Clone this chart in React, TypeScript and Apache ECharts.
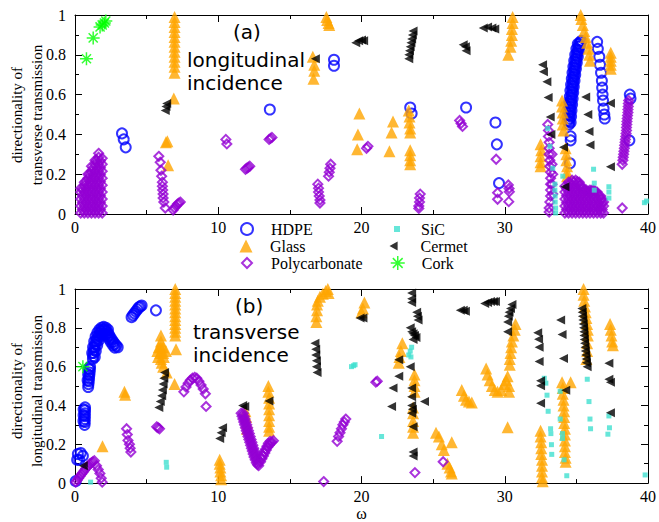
import React, { useEffect, useRef } from "react";
import * as echarts from "echarts";

// ---------- axes ----------
const xMin = 0;
const xMax = 40;
const xInterval = 10;
const yMin = 0;
const yMax = 1;
const yInterval = 0.2;

const seriesNames = ["HDPE", "Glass", "Polycarbonate", "SiC", "Cermet", "Cork"];

// ---------- panel (a): longitudinal incidence ----------
const hdpeA = [
  [3.28, 0.405], [3.4, 0.375], [3.54, 0.335],
  [13.6, 0.525],
  [18.08, 0.775], [18.08, 0.745],
  [23.4, 0.535], [23.5, 0.505],
  [27.3, 0.535],
  [29.35, 0.46], [29.45, 0.35], [29.6, 0.155],
  [34.55, 0.255], [34.6, 0.37], [34.6, 0.39],
  [34.48, 0.45], [34.5, 0.465], [34.52, 0.48], [34.53, 0.495], [34.55, 0.51], [34.57, 0.525],
  [34.58, 0.54], [34.6, 0.555], [34.62, 0.57], [34.65, 0.585], [34.67, 0.6], [34.7, 0.615],
  [34.72, 0.63], [34.74, 0.645], [34.76, 0.66], [34.79, 0.675], [34.81, 0.69], [34.84, 0.705],
  [34.86, 0.72], [34.89, 0.735], [34.92, 0.75], [34.95, 0.765], [34.98, 0.78], [35.02, 0.795],
  [35.06, 0.81], [35.1, 0.825], [35.15, 0.84], [35.2, 0.855], [35.27, 0.865], [35.35, 0.87],
  [34.6, 0.46], [34.63, 0.49], [34.66, 0.52], [34.7, 0.55], [34.74, 0.58], [34.78, 0.61],
  [34.82, 0.64], [34.87, 0.67], [34.92, 0.7], [34.97, 0.73], [35.03, 0.76], [35.1, 0.79],
  [35.17, 0.82], [35.25, 0.845],
  [34.4, 0.47], [34.43, 0.5], [34.46, 0.53], [34.5, 0.56], [34.54, 0.59], [34.58, 0.62],
  [34.63, 0.65], [34.68, 0.68], [34.73, 0.71], [34.79, 0.74], [34.85, 0.77], [34.92, 0.8],
  [35.0, 0.83], [35.1, 0.855],
  [36.45, 0.865], [36.5, 0.83], [36.6, 0.79], [36.65, 0.75], [36.72, 0.71], [36.78, 0.67],
  [36.8, 0.635], [36.83, 0.6], [36.86, 0.57], [36.9, 0.53], [36.95, 0.5], [36.98, 0.48],
  [38.73, 0.6], [38.78, 0.58], [38.7, 0.37],
];

const glassA = [
  [6.95, 0.99], [6.95, 0.965], [6.95, 0.94], [6.95, 0.915], [6.95, 0.89], [6.95, 0.865],
  [6.95, 0.84], [6.95, 0.815], [6.95, 0.79], [6.95, 0.765], [6.95, 0.74], [6.95, 0.71],
  [6.9, 0.58], [6.35, 0.36], [6.45, 0.365], [6.5, 0.245],
  [16.6, 0.79], [16.7, 0.75], [16.7, 0.72], [16.65, 0.68],
  [17.55, 0.99], [17.6, 0.975], [17.7, 0.96], [17.75, 0.95],
  [19.85, 0.505], [19.75, 0.4], [19.7, 0.325],
  [22.2, 0.465], [22.1, 0.41], [21.95, 0.315],
  [23.3, 0.52], [23.35, 0.49], [23.35, 0.46], [23.4, 0.43], [23.4, 0.41],
  [23.4, 0.32], [23.4, 0.295], [23.4, 0.27], [23.4, 0.25],
  [30.55, 0.99], [30.55, 0.96], [30.5, 0.93], [30.5, 0.9], [30.45, 0.87], [30.4, 0.84], [30.25, 0.8],
  [35.3, 1.0], [35.35, 0.98], [35.45, 0.95], [35.55, 0.92], [35.65, 0.89], [35.75, 0.86],
  [35.85, 0.83], [35.9, 0.8], [35.95, 0.77],
  [37.4, 0.81], [37.4, 0.79], [37.4, 0.77], [37.4, 0.75], [37.4, 0.73],
  [34.0, 0.57], [34.0, 0.54], [34.05, 0.51], [34.05, 0.48], [34.05, 0.45], [34.1, 0.42],
  [32.5, 0.35], [32.55, 0.32], [32.5, 0.29], [32.5, 0.26], [32.5, 0.24],
  [34.25, 0.33], [34.3, 0.3], [34.3, 0.27], [34.35, 0.24], [34.35, 0.21], [34.35, 0.19],
];

const pcA = [
  [0.4, 0.005], [0.4, 0.04], [0.4, 0.075], [0.4, 0.11], [0.4, 0.13],
  [0.65, 0.005], [0.65, 0.04], [0.65, 0.075], [0.65, 0.11], [0.65, 0.145], [0.65, 0.16],
  [0.9, 0.005], [0.9, 0.04], [0.9, 0.075], [0.9, 0.11], [0.9, 0.145], [0.9, 0.18], [0.9, 0.2],
  [1.15, 0.005], [1.15, 0.04], [1.15, 0.075], [1.15, 0.11], [1.15, 0.145], [1.15, 0.18], [1.15, 0.215], [1.15, 0.24],
  [1.4, 0.005], [1.4, 0.04], [1.4, 0.075], [1.4, 0.11], [1.4, 0.145], [1.4, 0.18], [1.4, 0.215], [1.4, 0.25], [1.4, 0.27],
  [1.65, 0.005], [1.65, 0.04], [1.65, 0.075], [1.65, 0.11], [1.65, 0.145], [1.65, 0.18], [1.65, 0.215], [1.65, 0.25], [1.65, 0.285], [1.65, 0.305],
  [1.9, 0.005], [1.9, 0.04], [1.9, 0.075], [1.9, 0.11], [1.9, 0.145], [1.9, 0.18], [1.9, 0.215], [1.9, 0.25], [1.9, 0.28],
  [0.52, 0.022], [0.52, 0.057], [0.52, 0.092], [0.52, 0.127],
  [0.77, 0.022], [0.77, 0.057], [0.77, 0.092], [0.77, 0.127], [0.77, 0.165],
  [1.02, 0.022], [1.02, 0.057], [1.02, 0.092], [1.02, 0.127], [1.02, 0.162], [1.02, 0.2],
  [1.27, 0.022], [1.27, 0.057], [1.27, 0.092], [1.27, 0.127], [1.27, 0.162], [1.27, 0.197], [1.27, 0.232],
  [1.52, 0.022], [1.52, 0.057], [1.52, 0.092], [1.52, 0.127], [1.52, 0.162], [1.52, 0.197], [1.52, 0.232], [1.52, 0.27],
  [1.77, 0.022], [1.77, 0.057], [1.77, 0.092], [1.77, 0.127], [1.77, 0.162], [1.77, 0.197], [1.77, 0.232], [1.77, 0.267],
  [5.85, 0.29], [5.95, 0.26], [6.0, 0.22], [6.05, 0.19], [6.1, 0.16], [6.1, 0.14], [6.12, 0.12],
  [6.15, 0.1], [6.15, 0.08], [6.2, 0.06], [6.3, 0.03],
  [6.85, 0.02], [6.95, 0.03], [7.05, 0.04], [7.15, 0.05], [7.25, 0.055], [7.35, 0.06],
  [10.53, 0.375], [10.6, 0.352],
  [11.9, 0.225], [12.0, 0.23], [12.1, 0.235], [12.2, 0.24],
  [13.55, 0.375], [13.65, 0.38], [13.75, 0.385],
  [16.95, 0.15], [17.0, 0.13], [17.0, 0.11], [17.05, 0.09], [17.1, 0.07], [17.1, 0.055],
  [17.85, 0.25], [17.8, 0.23], [17.75, 0.21], [17.7, 0.19],
  [20.35, 0.33], [20.45, 0.34],
  [24.1, 0.1], [24.05, 0.08], [24.05, 0.06], [24.0, 0.04], [24.0, 0.028],
  [26.85, 0.47], [26.95, 0.455], [27.05, 0.44],
  [29.4, 0.275], [29.5, 0.107], [29.5, 0.074], [30.25, 0.146], [30.3, 0.128], [30.32, 0.112], [30.28, 0.062],
  [33.0, 0.45], [33.05, 0.42], [33.05, 0.39], [33.1, 0.36], [33.1, 0.33], [33.1, 0.3], [33.15, 0.27],
  [33.15, 0.24], [33.2, 0.21], [33.2, 0.18], [33.2, 0.15], [33.2, 0.12], [33.2, 0.09], [33.15, 0.06],
  [33.1, 0.03], [33.1, 0.01], [33.3, 0.3], [33.3, 0.25], [33.35, 0.2], [33.3, 0.15], [33.35, 0.1],
  [34.2, 0.005], [34.2, 0.04], [34.2, 0.075], [34.2, 0.11], [34.2, 0.14],
  [34.45, 0.005], [34.45, 0.04], [34.45, 0.075], [34.45, 0.11], [34.45, 0.145], [34.45, 0.16],
  [34.7, 0.005], [34.7, 0.04], [34.7, 0.075], [34.7, 0.11], [34.7, 0.145], [34.7, 0.17],
  [34.95, 0.005], [34.95, 0.04], [34.95, 0.075], [34.95, 0.11], [34.95, 0.145], [34.95, 0.17],
  [35.2, 0.005], [35.2, 0.04], [35.2, 0.075], [35.2, 0.11], [35.2, 0.145], [35.2, 0.16],
  [35.45, 0.005], [35.45, 0.04], [35.45, 0.075], [35.45, 0.11], [35.45, 0.13],
  [35.7, 0.005], [35.7, 0.04], [35.7, 0.075], [35.7, 0.11], [35.7, 0.12],
  [35.95, 0.005], [35.95, 0.04], [35.95, 0.075], [35.95, 0.11], [35.95, 0.12],
  [36.2, 0.005], [36.2, 0.04], [36.2, 0.075], [36.2, 0.11], [36.2, 0.12],
  [36.45, 0.005], [36.45, 0.04], [36.45, 0.075], [36.45, 0.11],
  [36.7, 0.005], [36.7, 0.04], [36.7, 0.075], [36.7, 0.09],
  [36.9, 0.005], [36.9, 0.04], [36.9, 0.06],
  [34.32, 0.022], [34.32, 0.057], [34.32, 0.092], [34.32, 0.127],
  [34.57, 0.022], [34.57, 0.057], [34.57, 0.092], [34.57, 0.127], [34.57, 0.155],
  [34.82, 0.022], [34.82, 0.057], [34.82, 0.092], [34.82, 0.127], [34.82, 0.162],
  [35.07, 0.022], [35.07, 0.057], [35.07, 0.092], [35.07, 0.127], [35.07, 0.162],
  [35.32, 0.022], [35.32, 0.057], [35.32, 0.092], [35.32, 0.127], [35.32, 0.145],
  [35.57, 0.022], [35.57, 0.057], [35.57, 0.092], [35.57, 0.12],
  [35.82, 0.022], [35.82, 0.057], [35.82, 0.092], [35.82, 0.115],
  [36.07, 0.022], [36.07, 0.057], [36.07, 0.092], [36.07, 0.118],
  [36.32, 0.022], [36.32, 0.057], [36.32, 0.092], [36.32, 0.115],
  [36.57, 0.022], [36.57, 0.057], [36.57, 0.092],
  [36.8, 0.022], [36.8, 0.057], [36.8, 0.075],
  [38.65, 0.57], [38.62, 0.54], [38.6, 0.51], [38.55, 0.48], [38.52, 0.45], [38.5, 0.42],
  [38.45, 0.39], [38.4, 0.36], [38.35, 0.33], [38.3, 0.3], [38.25, 0.27], [38.2, 0.25],
  [38.63, 0.555], [38.6, 0.525], [38.57, 0.495], [38.53, 0.465], [38.5, 0.435], [38.47, 0.405],
  [38.42, 0.375], [38.37, 0.345], [38.32, 0.315], [38.27, 0.285],
  [38.2, 0.03],
];

const sicA = [
  [33.0, 0.43], [33.15, 0.34], [33.35, 0.23], [33.5, 0.15], [33.5, 0.12], [33.52, 0.09],
  [33.52, 0.06], [33.55, 0.03], [33.55, 0.005], [34.05, 0.19],
  [36.2, 0.225], [36.25, 0.155], [36.25, 0.12],
  [37.27, 0.137], [37.27, 0.11], [37.27, 0.08],
  [39.75, 0.057], [39.9, 0.065],
];

const cermetA = [
  [6.3, 0.52], [6.35, 0.54], [6.4, 0.555],
  [16.78, 0.78],
  [19.6, 0.86], [19.8, 0.87], [20.0, 0.875], [20.15, 0.87],
  [23.6, 0.92], [23.55, 0.9], [23.5, 0.88], [23.45, 0.86], [23.4, 0.84], [23.35, 0.82], [23.3, 0.8], [23.3, 0.78],
  [27.1, 0.85], [27.25, 0.84], [27.3, 0.82],
  [28.5, 0.935], [28.8, 0.94], [29.1, 0.935], [29.3, 0.93],
  [32.64, 0.75], [32.7, 0.715], [32.94, 0.665], [33.03, 0.585], [33.17, 0.488], [33.22, 0.4],
  [34.1, 0.335], [34.2, 0.137],
  [35.65, 0.588], [35.8, 0.5], [35.88, 0.414], [35.95, 0.347],
  [37.38, 0.556], [37.38, 0.238],
];

const corkA = [
  [0.8, 0.78], [1.27, 0.885], [1.75, 0.94], [1.9, 0.95], [2.05, 0.96], [2.15, 0.97],
];

// ---------- panel (b): transverse incidence ----------
const hdpeB = [
  [0.05, 0.01],
  [0.15, 0.12], [0.3, 0.12], [0.2, 0.15], [0.4, 0.155], [0.55, 0.14],
  [0.7, 0.39], [0.7, 0.375], [0.69, 0.36], [0.69, 0.345], [0.68, 0.33], [0.68, 0.315], [0.67, 0.3],
  [0.6, 0.38], [0.6, 0.35], [0.59, 0.32],
  [1.05, 0.6], [1.04, 0.585], [1.02, 0.57], [1.0, 0.555], [0.98, 0.54], [0.96, 0.525], [0.94, 0.51], [0.92, 0.495],
  [0.95, 0.59], [0.92, 0.56], [0.88, 0.53],
  [1.25, 0.64], [1.27, 0.655], [1.3, 0.67], [1.33, 0.685], [1.37, 0.7], [1.42, 0.715], [1.48, 0.73],
  [1.55, 0.745], [1.63, 0.76], [1.72, 0.772], [1.82, 0.782], [1.93, 0.79], [2.05, 0.792], [2.17, 0.785],
  [2.28, 0.775], [2.38, 0.763], [2.48, 0.75], [2.58, 0.738], [2.68, 0.727], [2.78, 0.717], [2.88, 0.708], [2.98, 0.7],
  [1.38, 0.65], [1.45, 0.68], [1.55, 0.71], [1.65, 0.735], [1.77, 0.755], [1.9, 0.765], [2.03, 0.77],
  [2.15, 0.765], [2.27, 0.755], [2.4, 0.74], [2.52, 0.725], [2.65, 0.71], [2.78, 0.698],
  [1.2, 0.67], [1.26, 0.7], [1.34, 0.73], [1.44, 0.755], [1.56, 0.775], [1.7, 0.79], [1.85, 0.8],
  [2.0, 0.805], [2.15, 0.8], [2.3, 0.79],
  [3.95, 0.855], [4.05, 0.865], [4.15, 0.875], [4.25, 0.885], [4.35, 0.895], [4.45, 0.905], [4.55, 0.91], [4.65, 0.915],
  [5.65, 0.89],
];

const glassB = [
  [1.92, 0.19], [3.45, 0.47], [3.5, 0.455],
  [7.0, 1.0], [7.0, 0.98], [7.0, 0.96], [7.0, 0.94], [7.0, 0.92], [7.0, 0.9], [7.0, 0.88],
  [7.0, 0.86], [7.0, 0.84], [7.0, 0.82], [7.0, 0.8], [7.0, 0.78], [7.0, 0.76], [7.05, 0.69], [6.95, 0.51],
  [6.4, 0.57],
  [6.0, 0.76], [6.0, 0.73], [5.85, 0.7], [6.0, 0.7], [6.15, 0.7], [5.75, 0.68], [5.95, 0.67],
  [6.15, 0.67], [6.35, 0.68], [5.8, 0.65], [6.0, 0.64], [6.2, 0.65], [6.05, 0.62], [6.15, 0.6],
  [10.1, 0.12], [10.1, 0.1], [10.15, 0.08], [10.15, 0.06], [10.2, 0.04], [10.2, 0.02],
  [11.9, 0.37], [11.95, 0.34], [12.0, 0.31], [12.0, 0.28],
  [13.5, 0.5], [13.5, 0.47], [13.55, 0.44], [13.55, 0.41], [13.55, 0.38], [13.55, 0.35],
  [13.55, 0.32], [13.55, 0.29], [13.55, 0.27],
  [16.85, 0.83], [16.85, 0.86], [16.9, 0.89], [16.9, 0.92], [16.95, 0.94], [17.1, 0.96],
  [17.3, 0.975], [17.5, 0.99], [17.65, 1.0], [17.7, 0.98],
  [20.2, 0.93], [20.1, 0.9], [20.0, 0.88],
  [22.85, 0.72], [22.75, 0.68], [22.65, 0.65], [22.6, 0.62],
  [23.7, 0.56], [23.7, 0.53], [23.7, 0.5], [23.7, 0.47],
  [23.6, 0.39], [23.6, 0.36], [23.6, 0.32], [23.6, 0.29], [23.6, 0.26],
  [25.2, 0.26], [25.4, 0.24], [25.6, 0.2], [25.75, 0.17], [26.3, 0.21],
  [26.0, 0.1], [26.15, 0.08], [26.25, 0.06], [26.3, 0.05],
  [27.0, 0.48], [27.15, 0.45], [27.3, 0.43], [27.5, 0.42], [27.7, 0.415],
  [28.7, 0.59], [28.8, 0.56], [28.95, 0.53], [29.1, 0.5], [29.3, 0.48], [29.5, 0.47],
  [29.75, 0.48], [29.95, 0.51], [30.1, 0.53], [30.2, 0.55], [30.3, 0.5], [30.3, 0.47],
  [30.75, 0.82], [30.7, 0.79], [30.6, 0.76], [30.5, 0.73], [30.45, 0.7], [30.4, 0.67], [30.35, 0.64], [30.35, 0.61],
  [30.2, 0.288],
  [32.5, 0.27], [32.5, 0.24], [32.55, 0.21], [32.55, 0.18], [32.55, 0.15], [32.6, 0.12],
  [32.6, 0.09], [32.6, 0.06], [32.6, 0.03], [32.65, 0.01],
  [34.0, 0.52], [34.6, 0.52], [34.05, 0.49], [34.05, 0.46], [34.1, 0.43], [34.1, 0.4],
  [34.15, 0.37], [34.15, 0.34], [34.15, 0.31], [34.2, 0.28], [34.2, 0.25], [34.2, 0.22],
  [34.2, 0.19], [34.2, 0.16], [34.25, 0.13], [34.25, 0.11],
  [35.5, 1.0], [35.5, 0.97], [35.55, 0.94], [35.6, 0.91], [35.65, 0.88], [35.7, 0.85],
  [35.75, 0.82], [35.8, 0.79], [35.8, 0.76], [35.75, 0.72], [35.75, 0.68], [35.7, 0.64],
  [37.35, 0.82], [37.4, 0.79], [37.45, 0.76], [37.5, 0.73], [37.55, 0.71],
];

const pcB = [
  [0.05, 0.005], [0.15, 0.015], [0.25, 0.025], [0.35, 0.035], [0.45, 0.045], [0.55, 0.055],
  [0.65, 0.065], [0.75, 0.075], [0.85, 0.085], [0.95, 0.09], [1.05, 0.1], [1.15, 0.105],
  [1.25, 0.11], [1.35, 0.115],
  [1.5, 0.09], [1.62, 0.07], [1.74, 0.05], [1.83, 0.025], [1.9, 0.005],
  [3.6, 0.28], [3.65, 0.25], [3.7, 0.22], [3.8, 0.2], [3.85, 0.18], [3.9, 0.16],
  [5.7, 0.29], [5.8, 0.285], [5.9, 0.28],
  [7.6, 0.47], [7.75, 0.495], [7.9, 0.515], [8.05, 0.53], [8.2, 0.54], [8.35, 0.545],
  [8.5, 0.54], [8.65, 0.525], [8.8, 0.505], [8.95, 0.485], [9.1, 0.46], [9.15, 0.395],
  [11.6, 0.36], [11.66, 0.345], [11.72, 0.33], [11.78, 0.315], [11.84, 0.3], [11.9, 0.285],
  [11.96, 0.27], [12.02, 0.255], [12.08, 0.24], [12.14, 0.225], [12.2, 0.21], [12.26, 0.195],
  [12.32, 0.18], [12.38, 0.165], [12.44, 0.15], [12.5, 0.135], [12.58, 0.12], [12.66, 0.105],
  [12.74, 0.095], [12.82, 0.09],
  [11.75, 0.36], [11.81, 0.345], [11.87, 0.33], [11.93, 0.315], [11.99, 0.3], [12.05, 0.285],
  [12.11, 0.27], [12.17, 0.255], [12.23, 0.24], [12.29, 0.225], [12.35, 0.21], [12.41, 0.195],
  [12.47, 0.18], [12.53, 0.165], [12.59, 0.15], [12.65, 0.135], [12.72, 0.12], [12.8, 0.105],
  [12.95, 0.11], [13.05, 0.125], [13.15, 0.14], [13.25, 0.155], [13.35, 0.17], [13.45, 0.185],
  [13.55, 0.195], [13.65, 0.205], [13.75, 0.212], [13.85, 0.218],
  [13.0, 0.13], [13.1, 0.145], [13.2, 0.16], [13.3, 0.175], [13.4, 0.19], [13.5, 0.205], [13.62, 0.215],
  [17.36, 0.008],
  [18.3, 0.215], [18.4, 0.24], [18.5, 0.26], [18.6, 0.28], [18.7, 0.3], [18.8, 0.315], [18.9, 0.33],
  [21.0, 0.52], [21.1, 0.525],
  [23.73, 0.054], [25.7, 0.11],
];

const sicB = [
  [1.09, 0.005], [6.37, 0.107], [6.4, 0.082],
  [19.3, 0.6], [19.45, 0.605], [19.55, 0.61],
  [21.4, 0.24],
  [23.3, 0.66], [23.4, 0.68], [23.5, 0.7], [23.45, 0.65],
  [32.76, 0.54], [32.87, 0.515], [32.95, 0.453], [33.03, 0.37], [33.2, 0.28], [33.22, 0.255],
  [33.26, 0.198], [33.28, 0.148],
  [33.87, 0.473], [33.87, 0.33], [34.03, 0.255], [34.03, 0.23], [34.14, 0.12], [34.33, 0.038],
  [35.76, 0.535], [35.88, 0.42], [35.95, 0.33], [35.99, 0.28],
  [37.27, 0.346], [37.31, 0.285], [37.2, 0.252],
  [39.8, 0.042],
];

const cermetB = [
  [0.58, 0.09],
  [6.25, 0.57], [6.2, 0.54], [6.15, 0.51], [6.1, 0.48], [6.05, 0.45], [5.95, 0.42], [5.85, 0.39],
  [10.1, 0.23], [10.2, 0.26], [10.3, 0.285],
  [11.7, 0.4], [11.85, 0.395],
  [13.54, 0.423],
  [16.75, 0.72], [16.8, 0.69], [16.8, 0.66], [16.85, 0.63], [16.85, 0.6], [16.9, 0.57],
  [19.9, 0.85], [20.1, 0.85],
  [23.5, 0.98], [23.5, 0.95], [23.5, 0.93], [23.85, 0.88], [23.9, 0.86], [23.95, 0.84],
  [23.4, 0.8], [23.5, 0.78], [23.6, 0.77], [23.7, 0.76], [23.8, 0.75], [23.6, 0.74],
  [22.6, 0.635], [23.4, 0.6], [22.6, 0.55], [22.2, 0.49], [23.5, 0.49], [23.5, 0.445],
  [24.4, 0.42], [23.5, 0.4], [23.55, 0.38], [22.1, 0.395], [23.5, 0.36], [23.6, 0.29],
  [23.6, 0.16], [23.6, 0.14],
  [26.9, 0.89], [27.1, 0.89], [27.25, 0.885],
  [28.6, 0.925], [28.8, 0.93], [29.0, 0.935], [29.2, 0.935], [29.35, 0.935],
  [30.5, 0.92], [30.4, 0.9], [30.3, 0.88], [30.25, 0.86], [30.2, 0.83], [30.2, 0.78],
  [32.3, 0.774], [32.36, 0.741], [32.4, 0.7], [32.4, 0.626], [32.5, 0.527], [32.5, 0.502], [32.5, 0.412],
  [33.9, 0.84], [34.0, 0.766], [34.1, 0.642], [34.26, 0.478],
  [35.38, 0.9], [35.4, 0.88], [35.42, 0.86], [35.45, 0.84], [35.47, 0.82], [35.5, 0.8],
  [35.52, 0.78], [35.53, 0.76], [35.55, 0.74], [35.57, 0.72], [35.6, 0.7], [35.62, 0.68],
  [35.65, 0.66], [35.68, 0.64], [35.7, 0.62], [35.75, 0.6],
  [37.27, 0.617], [37.27, 0.535], [37.38, 0.519], [37.38, 0.363],
];

const corkB = [[0.55, 0.6]];

const panelA = [hdpeA, glassA, pcA, sicA, cermetA, corkA];
const panelB = [hdpeB, glassB, pcB, sicB, cermetB, corkB];

// ---------- styling ----------
const SERIF = "'Liberation Serif', 'Times New Roman', serif";
const SANS = "'DejaVu Sans', sans-serif";

const TRI_LEFT = "path://M0,5L9,0L9,10Z";
const ASTERISK = "path://M5,0L5,10M0,5L10,5M1.5,1.5L8.5,8.5M1.5,8.5L8.5,1.5";

const markStyles: any[] = [
  { symbol: "circle", symbolSize: 10, itemStyle: { color: "transparent", borderColor: "#0000ff", borderWidth: 2 }, legendSize: 12 },
  { symbol: "triangle", symbolSize: 12, itemStyle: { color: "#ffa500" }, legendSize: 13 },
  { symbol: "diamond", symbolSize: 9, itemStyle: { color: "transparent", borderColor: "#9400d3", borderWidth: 2 }, legendSize: 10 },
  { symbol: "rect", symbolSize: 5, itemStyle: { color: "#40e0d0" }, legendSize: 6 },
  { symbol: TRI_LEFT, symbolSize: 9, itemStyle: { color: "#000000" }, legendSize: 9 },
  { symbol: ASTERISK, symbolSize: 13, itemStyle: { color: "transparent", borderColor: "#00ff00", borderWidth: 1.5 }, legendSize: 14 },
];

// legend layout: icon centre x, row centre y, text start x
const legendPos = [
  { cx: 246, cy: 229, tx: 270 },
  { cx: 246, cy: 246, tx: 270 },
  { cx: 246, cy: 263, tx: 270 },
  { cx: 397, cy: 229, tx: 421 },
  { cx: 394, cy: 246, tx: 421 },
  { cx: 397, cy: 263, tx: 421 },
];

function xAxis(gridIndex: number, position: string, labels: boolean, name?: string) {
  return {
    type: "value",
    gridIndex,
    position,
    min: xMin,
    max: xMax,
    interval: xInterval,
    name: name || "",
    nameLocation: "middle",
    nameGap: 21,
    nameTextStyle: { color: "#000", fontFamily: SERIF, fontSize: 16 },
    axisLine: { show: true, onZero: false, lineStyle: { color: "#000", width: 1 } },
    axisTick: { show: true, inside: true, length: 7, lineStyle: { color: "#000", width: 1 } },
    minorTick: { show: true, splitNumber: 2, length: 4, lineStyle: { color: "#000", width: 1 } },
    axisLabel: { show: labels, color: "#000", fontFamily: SERIF, fontSize: 16, margin: 5 },
    splitLine: { show: false },
  };
}

function yAxis(gridIndex: number, position: string, labels: boolean) {
  return {
    type: "value",
    gridIndex,
    position,
    min: yMin,
    max: yMax,
    interval: yInterval,
    axisLine: { show: true, onZero: false, lineStyle: { color: "#000", width: 1 } },
    axisTick: { show: true, inside: true, length: 7, lineStyle: { color: "#000", width: 1 } },
    minorTick: { show: true, splitNumber: 2, length: 4, lineStyle: { color: "#000", width: 1 } },
    axisLabel: { show: labels, color: "#000", fontFamily: SERIF, fontSize: 16, margin: 9 },
    splitLine: { show: false },
  };
}

function buildOption() {
  const series: any[] = [];
  [panelA, panelB].forEach((panel, p) => {
    panel.forEach((data, i) => {
      const st = markStyles[i];
      series.push({
        type: "scatter",
        name: seriesNames[i],
        xAxisIndex: p * 2,
        yAxisIndex: p * 2,
        data,
        symbol: st.symbol,
        symbolSize: st.symbolSize,
        itemStyle: st.itemStyle,
        clip: false,
        emphasis: { disabled: true },
      });
    });
  });

  const legends = seriesNames.map((n, i) => {
    const st = markStyles[i];
    const s = st.legendSize;
    const pos = legendPos[i];
    const pad = pos.tx - (pos.cx + s / 2 + 5);
    return {
      show: true,
      orient: "vertical",
      left: pos.cx - s / 2,
      top: pos.cy - 9,
      itemWidth: s,
      itemHeight: s,
      itemGap: 0,
      padding: 0,
      selectedMode: false,
      textStyle: { color: "#000", fontFamily: SERIF, fontSize: 16, lineHeight: 18, padding: [0, 0, 0, pad] },
      data: [{ name: n, icon: st.symbol, itemStyle: st.itemStyle }],
    };
  });

  const textStyle = (text: string) => ({
    text,
    fontFamily: SANS,
    fontSize: 20,
    lineHeight: 23,
    fill: "#000",
    align: "left",
    verticalAlign: "middle",
  });

  const graphic = [
    { type: "text", x: 233, y: 32, style: textStyle("(a)") },
    { type: "text", x: 187, y: 60, style: textStyle("longitudinal") },
    { type: "text", x: 187, y: 83, style: textStyle("incidence") },
    { type: "text", x: 235, y: 306, style: textStyle("(b)") },
    { type: "text", x: 193, y: 332, style: textStyle("transverse") },
    { type: "text", x: 193, y: 355, style: textStyle("incidence") },
    {
      type: "text", x: 27, y: 115, rotation: Math.PI / 2,
      style: { text: "directionality of\ntransverse transmission", fontFamily: SERIF, fontSize: 15, lineHeight: 20, fill: "#000", align: "center", verticalAlign: "middle" },
    },
    {
      type: "text", x: 27, y: 391, rotation: Math.PI / 2,
      style: { text: "directionality of\nlongitudinal transmission", fontFamily: SERIF, fontSize: 15, lineHeight: 20, fill: "#000", align: "center", verticalAlign: "middle" },
    },
  ];

  return {
    animation: false,
    backgroundColor: "#ffffff",
    grid: [
      { left: 75, top: 15, width: 576, height: 199, containLabel: false },
      { left: 75, top: 289, width: 576, height: 203, containLabel: false },
    ],
    xAxis: [
      xAxis(0, "bottom", true),
      xAxis(0, "top", false),
      xAxis(1, "bottom", true, "ω"),
      xAxis(1, "top", false),
    ],
    yAxis: [
      yAxis(0, "left", true),
      yAxis(0, "right", false),
      yAxis(1, "left", true),
      yAxis(1, "right", false),
    ],
    legend: legends,
    graphic,
    series,
  };
}

export default function App() {
  const ref = useRef<HTMLDivElement>(null);
  useEffect(() => {
    if (!ref.current) return;
    const chart = echarts.init(ref.current, undefined, { renderer: "svg" });
    chart.setOption(buildOption() as any);
    return () => chart.dispose();
  }, []);
  return (
    <div
      ref={ref}
      style={{ position: "fixed", left: 0, top: 0, width: 659, height: 522, background: "#fff" }}
    />
  );
}
